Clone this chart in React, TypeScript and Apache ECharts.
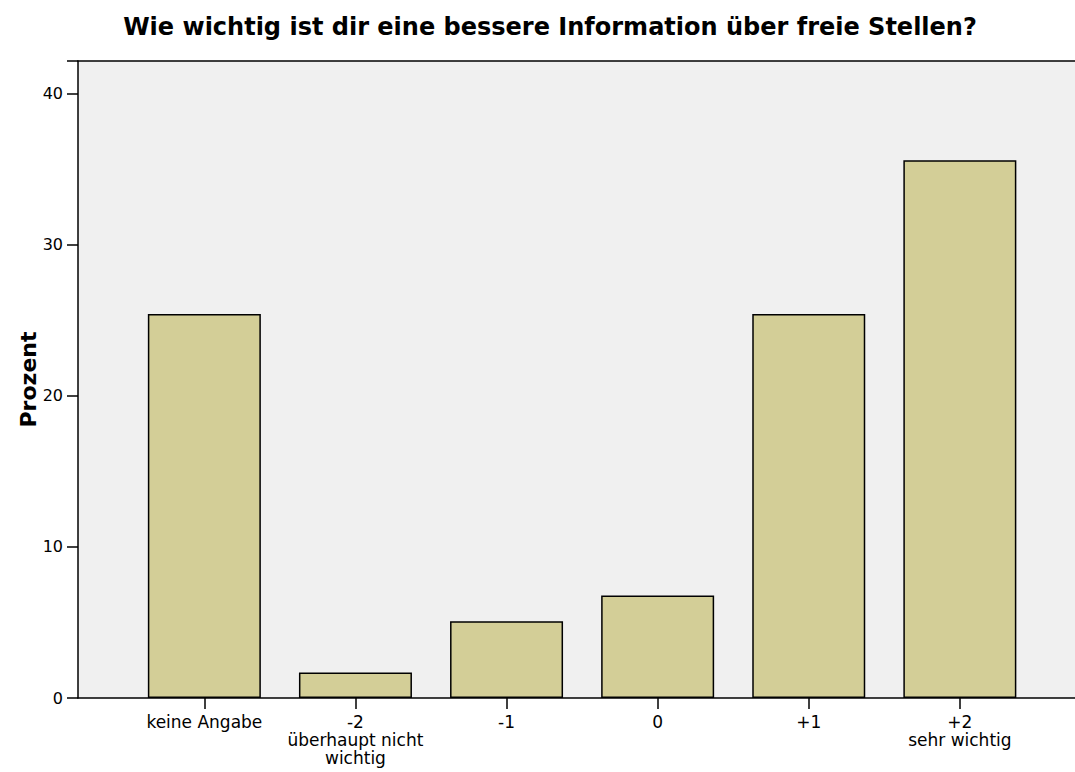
import React, { useEffect, useRef } from "react";
import * as echarts from "echarts";

const categories = ["keine Angabe", "-2\nüberhaupt nicht\nwichtig", "-1", "0", "+1", "+2\nsehr wichtig"];
const percentValues = [25.42, 1.69, 5.08, 6.78, 25.42, 35.59];
const yTicks = [0, 10, 20, 30, 40];
const titleText = "Wie wichtig ist dir eine bessere Information über freie Stellen?";
const yAxisTitle = "Prozent";

export default function App() {
  const ref = useRef<HTMLDivElement>(null);
  useEffect(() => {
    if (!ref.current) return;
    const chart = echarts.init(ref.current, null, { renderer: "svg" });
    const yMax = 42.16;
    const font = "'DejaVu Sans', sans-serif";
    chart.setOption({
      animation: false,
      title: {
        text: titleText,
        left: 545,
        textAlign: "center",
        top: 10,
        textStyle: { fontFamily: font, fontSize: 24, fontWeight: "bold", color: "#000" },
      },
      grid: [
        { left: 78, top: 61, right: 0, bottom: 74, show: true, backgroundColor: "#f0f0f0", borderWidth: 0 },
        { left: 128.8, top: 61, right: 39.6, bottom: 74 },
      ],
      xAxis: [
        {
          type: "value", gridIndex: 0, min: 0, max: 1, position: "bottom",
          axisLine: { show: true, onZero: false, lineStyle: { color: "#000", width: 1.5 } },
          axisTick: { show: false }, axisLabel: { show: false }, splitLine: { show: false },
        },
        {
          type: "value", gridIndex: 0, min: 0, max: 1, position: "top",
          axisLine: { show: true, onZero: false, lineStyle: { color: "#000", width: 1.5 } },
          axisTick: { show: false }, axisLabel: { show: false }, splitLine: { show: false },
        },
        {
          type: "category", gridIndex: 1, data: categories, boundaryGap: true,
          axisLine: { show: false },
          axisTick: { show: true, alignWithLabel: true, length: 11, lineStyle: { color: "#000", width: 1.5 } },
          axisLabel: { fontFamily: font, fontSize: 17, color: "#000", lineHeight: 18, margin: 15, interval: 0 },
        },
      ],
      yAxis: [
        {
          type: "value", gridIndex: 0, min: 0, max: yMax, interval: 10,
          name: yAxisTitle, nameLocation: "middle", nameGap: 39, nameRotate: 90, nameMoveOverlap: false,
          nameTextStyle: { fontFamily: font, fontSize: 22, fontWeight: "bold", color: "#000" },
          axisLine: { show: true, lineStyle: { color: "#000", width: 1.5 } },
          axisTick: { show: true, length: 11, lineStyle: { color: "#000", width: 1.5 } },
          axisLabel: {
            fontFamily: font, fontSize: 16, color: "#000", margin: 15,
            formatter: (v: number) => (yTicks.includes(v) ? String(v) : ""),
          },
          splitLine: { show: false },
        },
        {
          type: "value", gridIndex: 1, min: 0, max: yMax, show: false, splitLine: { show: false },
        },
      ],
      series: [
        {
          type: "bar", xAxisIndex: 2, yAxisIndex: 1, data: percentValues, barWidth: 113,
          itemStyle: { color: "#d3ce97", borderColor: "#000", borderWidth: 1.5 },
        },
      ],
    });
    return () => chart.dispose();
  }, []);
  return <div ref={ref} style={{ width: 1075, height: 772, position: "absolute", left: 0, top: 0 }} />;
}
